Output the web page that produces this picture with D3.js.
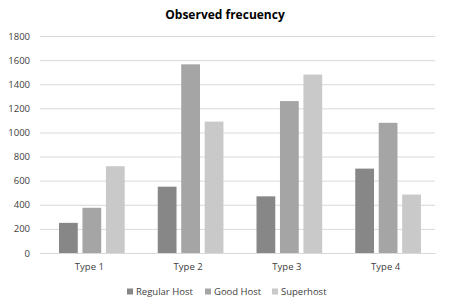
<!DOCTYPE html>
<html>
<head>
<meta charset="utf-8">
<script src="https://cdn.jsdelivr.net/npm/d3@7"></script>
<style>
  body { margin: 0; background: #fff; }
  text { font-family: "Open Sans", "Liberation Sans", sans-serif; fill: #404040; }
</style>
</head>
<body>
<div id="chart"></div>
<script>
const categories = ['Type 1', 'Type 2', 'Type 3', 'Type 4'];
const seriesNames = ['Regular Host', 'Good Host', 'Superhost'];
const regularHost = [250, 550, 470, 700];
const goodHost = [375, 1565, 1260, 1080];
const superhost = [720, 1090, 1480, 485];
const yTicks = [0, 200, 400, 600, 800, 1000, 1200, 1400, 1600, 1800];
const colors = ['#878787', '#a5a5a5', '#c9c9c9'];

const width = 450, height = 308;
const MARGIN = { top: 36, right: 15, bottom: 55, left: 40 };
const innerW = width - MARGIN.left - MARGIN.right;
const innerH = height - MARGIN.top - MARGIN.bottom;

const svg = d3.select('#chart').append('svg')
  .attr('width', width)
  .attr('height', height);

svg.append('text')
  .attr('x', 225)
  .attr('y', 19)
  .attr('text-anchor', 'middle')
  .style('font-size', '12px')
  .style('font-weight', 'bold')
  .style('fill', '#000')
  .text('Observed frecuency');

const g = svg.append('g').attr('transform', `translate(${MARGIN.left},${MARGIN.top})`);

const x = d3.scaleBand().domain(categories).range([0, innerW]).paddingInner(0).paddingOuter(0);
const xs = d3.scaleBand().domain(seriesNames).range([19, 19 + 65.7]).paddingInner(0.2).paddingOuter(0);
const y = d3.scaleLinear().domain([0, 1800]).range([innerH, 0]);

// gridlines + y labels
const yAxisG = g.append('g')
  .call(d3.axisLeft(y).tickValues(yTicks).tickFormat(d3.format('d')).tickSize(-innerW).tickPadding(10));
yAxisG.select('.domain').remove();
yAxisG.selectAll('line').attr('stroke', '#d9d9d9');
yAxisG.selectAll('text')
  .style('font-size', '9.5px')
  .style('fill', '#404040')
  .style('font-family', '"Open Sans", "Liberation Sans", sans-serif');

const data = categories.map((c, i) => ({
  cat: c,
  values: [regularHost[i], goodHost[i], superhost[i]]
}));

g.append('g').selectAll('g')
  .data(data)
  .join('g')
  .attr('transform', d => `translate(${x(d.cat)},0)`)
  .selectAll('rect')
  .data(d => d.values.map((v, k) => ({ name: seriesNames[k], value: v, k })))
  .join('rect')
  .attr('x', d => xs(d.name))
  .attr('width', xs.bandwidth())
  .attr('y', d => y(d.value))
  .attr('height', d => innerH - y(d.value))
  .attr('fill', d => colors[d.k]);

const xAxisG = g.append('g')
  .attr('transform', `translate(0,${innerH})`)
  .call(d3.axisBottom(x).tickSize(0).tickPadding(10));
xAxisG.select('.domain').attr('stroke', '#d9d9d9');
xAxisG.selectAll('text')
  .style('font-size', '9.5px')
  .style('fill', '#404040')
  .style('font-family', '"Open Sans", "Liberation Sans", sans-serif');

// legend
const legendX = [127, 205, 272];
const legend = svg.append('g').attr('transform', 'translate(0,292)');
seriesNames.forEach((s, i) => {
  legend.append('rect')
    .attr('x', legendX[i]).attr('y', -3.5)
    .attr('width', 6).attr('height', 6)
    .attr('fill', colors[i]);
  legend.append('text')
    .attr('x', legendX[i] + 9).attr('y', 0)
    .attr('dy', '0.35em')
    .style('font-size', '9.5px')
    .text(s);
});
</script>
</body>
</html>
